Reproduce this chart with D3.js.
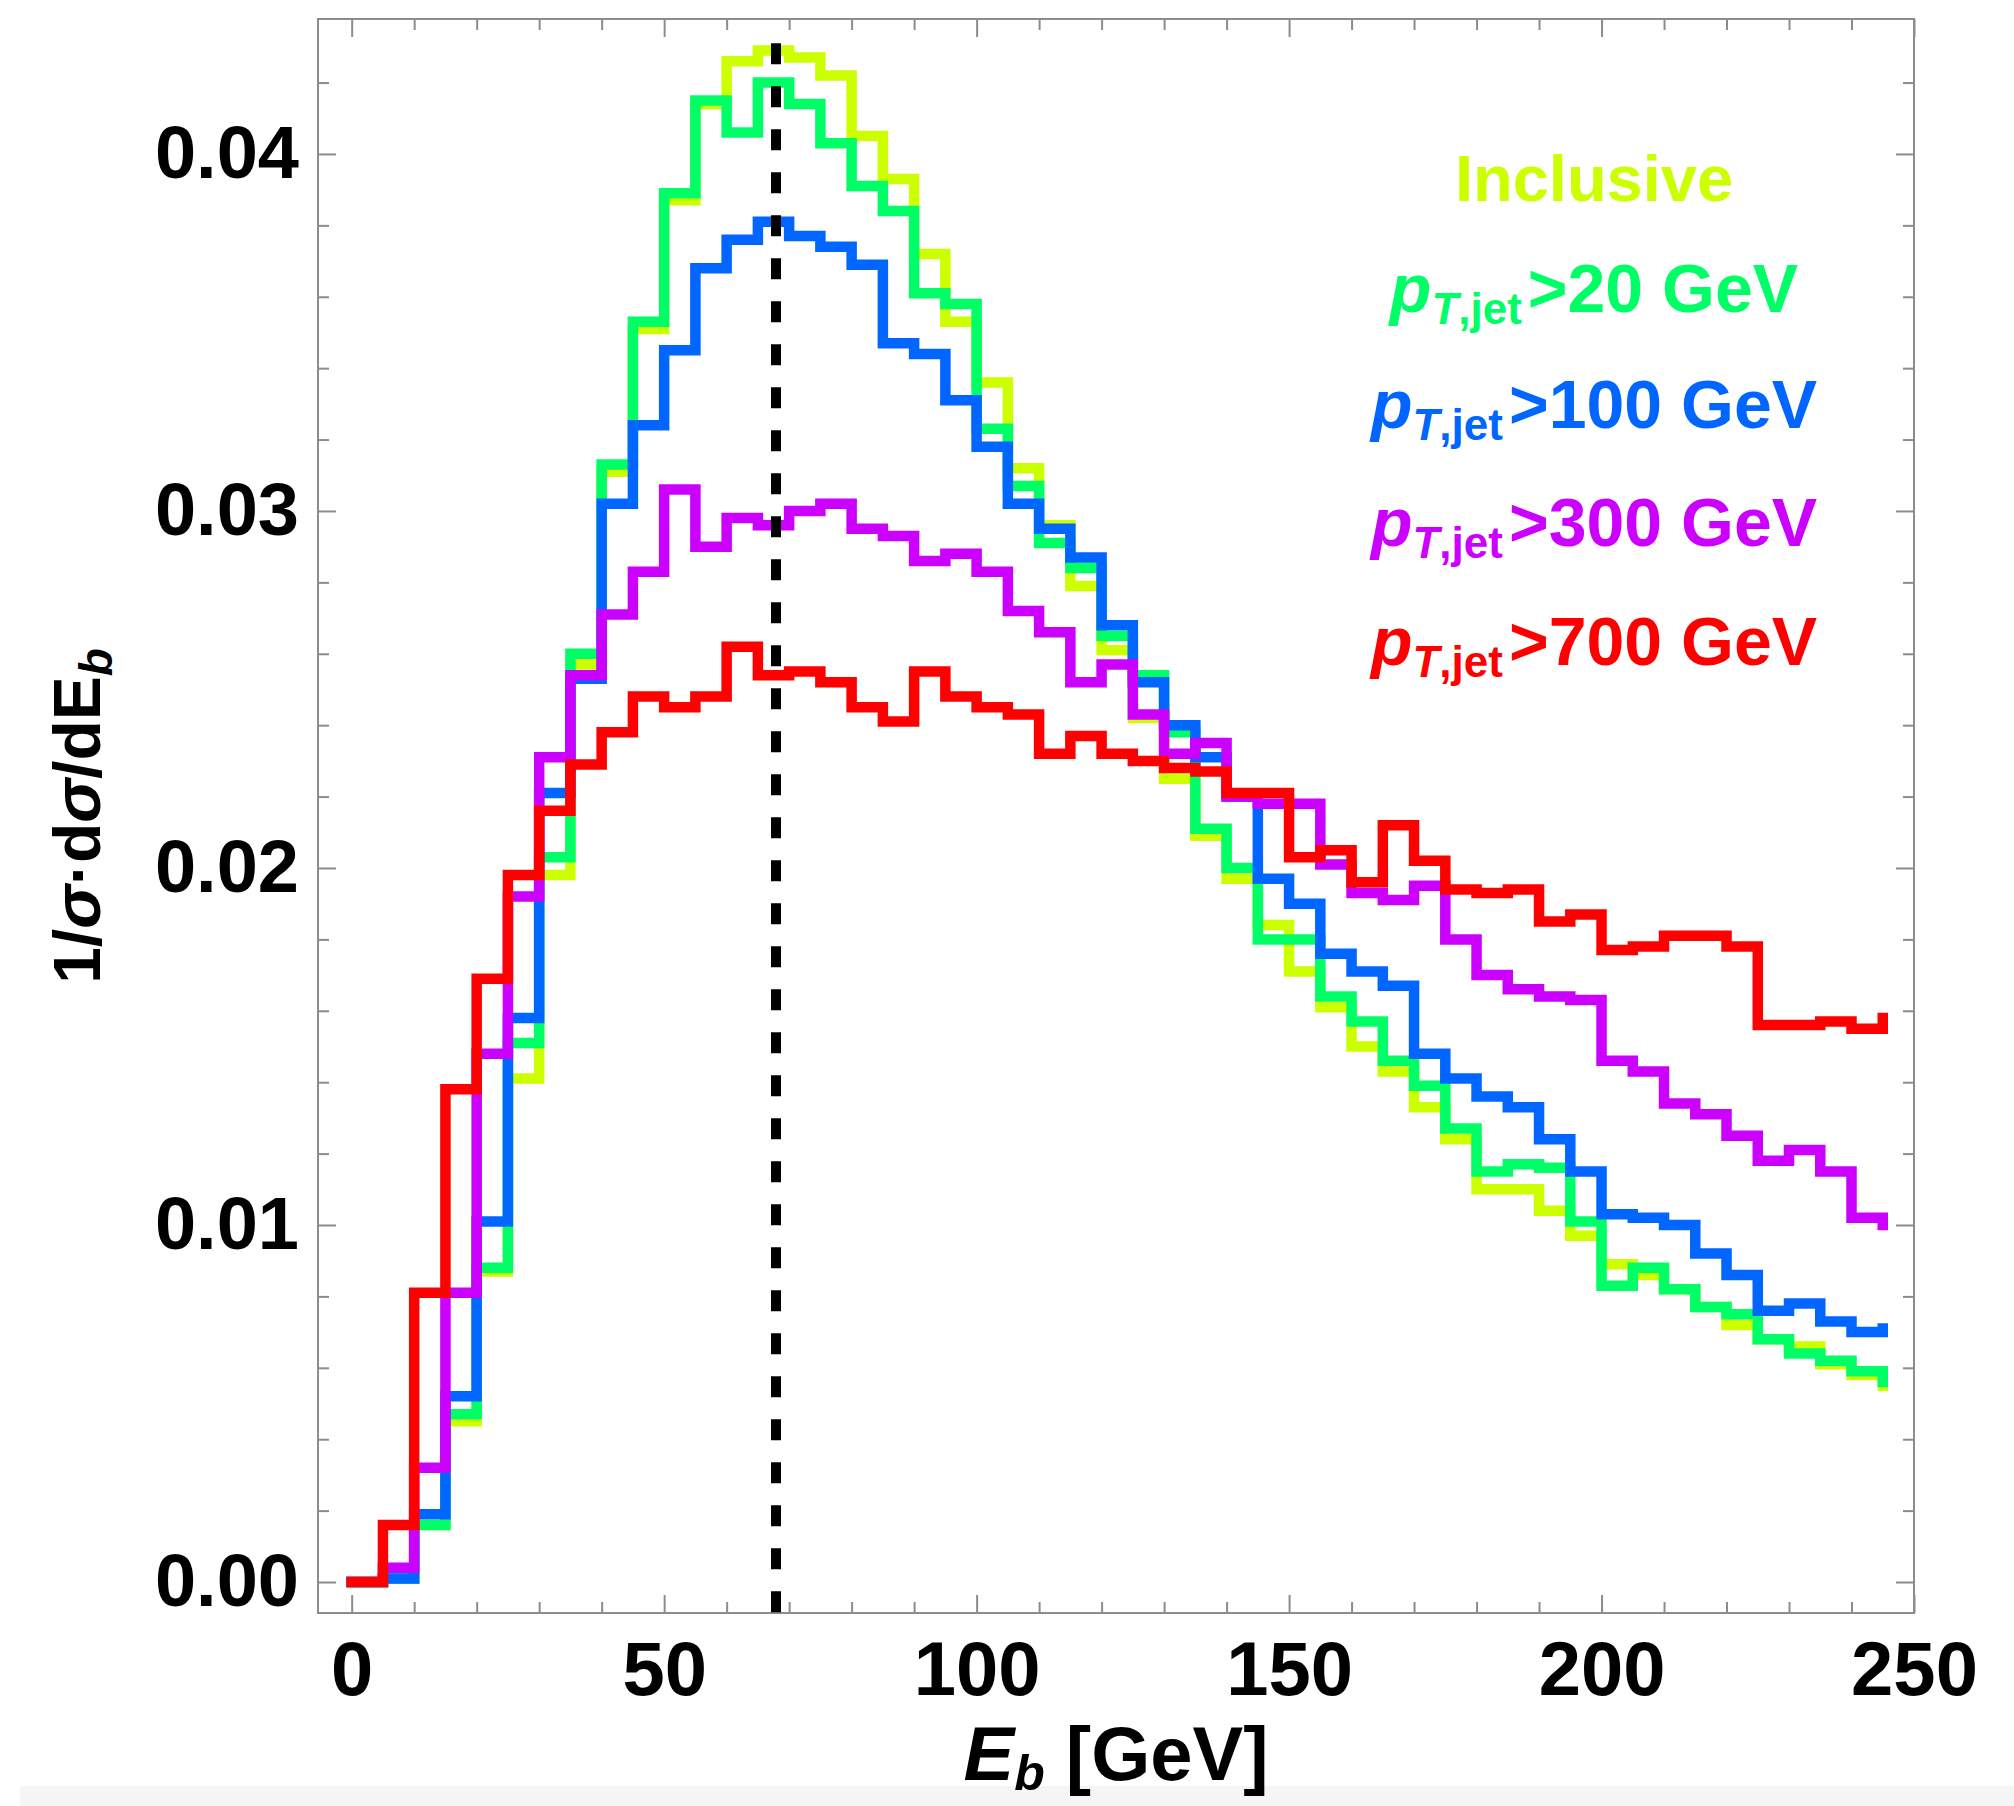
<!DOCTYPE html>
<html>
<head>
<meta charset="utf-8">
<script src="https://cdn.jsdelivr.net/npm/d3@7"></script>
<style>
  html, body { margin: 0; padding: 0; background: #fff; }
  svg text { font-family: "Liberation Sans", Arial, Helvetica, sans-serif; font-weight: bold; }
</style>
</head>
<body>
<svg id="chart" width="2014" height="1806"></svg>
<script>
// bin left edges in GeV (5 GeV bins)
const binLeft = [0, 5, 10, 15, 20, 25, 30, 35, 40, 45, 50, 55, 60, 65, 70, 75, 80, 85, 90, 95,
  100, 105, 110, 115, 120, 125, 130, 135, 140, 145, 150, 155, 160, 165, 170, 175, 180, 185, 190, 195,
  200, 205, 210, 215, 220, 225, 230, 235, 240, 245];

const inclusive = [0, 0.0001, 0.0016, 0.0045, 0.0087, 0.0141, 0.0198, 0.0257, 0.0311, 0.0351,
  0.0387, 0.0414, 0.0426, 0.0429, 0.0427, 0.0422, 0.0405, 0.0393, 0.0372, 0.0353,
  0.0336, 0.0312, 0.0296, 0.0279, 0.0261, 0.0242, 0.0225, 0.0209, 0.0197, 0.0184,
  0.0171, 0.0161, 0.0150, 0.0143, 0.0133, 0.0124, 0.0110, 0.0110, 0.0104, 0.0097,
  0.0089, 0.0086, 0.0082, 0.0077, 0.0072, 0.0068, 0.0066, 0.0061, 0.0058, 0.0055];

const pt20 = [0, 0.0001, 0.0016, 0.0047, 0.0088, 0.0151, 0.0203, 0.0260, 0.0313, 0.0353,
  0.0389, 0.0415, 0.0406, 0.0420, 0.0414, 0.0403, 0.0391, 0.0384, 0.0361, 0.0358,
  0.0323, 0.0307, 0.0291, 0.0284, 0.0265, 0.0254, 0.0238, 0.0211, 0.0200, 0.0180,
  0.0180, 0.0164, 0.0157, 0.0146, 0.0139, 0.0127, 0.0115, 0.0117, 0.0116, 0.0101,
  0.0083, 0.0088, 0.0082, 0.0077, 0.0075, 0.0068, 0.0064, 0.0062, 0.0059, 0.0056];

const pt100 = [0, 0.0001, 0.0019, 0.0052, 0.0101, 0.0158, 0.0221, 0.0253, 0.0302, 0.0324,
  0.0345, 0.0368, 0.0376, 0.0381, 0.0377, 0.0374, 0.0369, 0.0347, 0.0344, 0.0331,
  0.0318, 0.0302, 0.0295, 0.0287, 0.0268, 0.0252, 0.0240, 0.0231, 0.0220, 0.0197,
  0.0190, 0.0176, 0.0171, 0.0167, 0.0148, 0.0141, 0.0136, 0.0133, 0.0124, 0.0115,
  0.0103, 0.0102, 0.0100, 0.0092, 0.0086, 0.0076, 0.0078, 0.0073, 0.0070, 0.0071];

const pt300 = [0, 0.0004, 0.0032, 0.0081, 0.0148, 0.0192, 0.0231, 0.0254, 0.0271, 0.0283,
  0.0306, 0.0290, 0.0298, 0.0296, 0.0300, 0.0302, 0.0295, 0.0293, 0.0286, 0.0288,
  0.0283, 0.0272, 0.0266, 0.0252, 0.0257, 0.0243, 0.0232, 0.0235, 0.0220, 0.0218,
  0.0218, 0.0201, 0.0193, 0.0191, 0.0195, 0.0180, 0.0170, 0.0166, 0.0164, 0.0163,
  0.0146, 0.0143, 0.0134, 0.0131, 0.0125, 0.0118, 0.0121, 0.0115, 0.0102, 0.0100];

const pt700 = [0, 0.0016, 0.0081, 0.0138, 0.0169, 0.0198, 0.0216, 0.0229, 0.0238, 0.0248,
  0.0245, 0.0248, 0.0262, 0.0254, 0.0255, 0.0252, 0.0245, 0.0241, 0.0255, 0.0248,
  0.0245, 0.0243, 0.0232, 0.0237, 0.0232, 0.0230, 0.0228, 0.0227, 0.0221, 0.0221,
  0.0203, 0.0205, 0.0196, 0.0212, 0.0202, 0.0194, 0.0193, 0.0194, 0.0185, 0.0187,
  0.0177, 0.0178, 0.0181, 0.0181, 0.0178, 0.0156, 0.0156, 0.0157, 0.0155, 0.0158];

const seriesList = [inclusive, pt20, pt100, pt300, pt700];
const seriesColors = ['#ccff00', '#00ff66', '#0066ff', '#cc00ff', '#ff0000'];
const legendCuts = [null, '20', '100', '300', '700'];

const xMajor = [0, 50, 100, 150, 200, 250];
const xMinor = [10, 20, 30, 40, 60, 70, 80, 90, 110, 120, 130, 140, 160, 170, 180, 190, 210, 220, 230, 240];
const yMajor = [0, 0.01, 0.02, 0.03, 0.04];
const yMinor = [0.002, 0.004, 0.006, 0.008, 0.012, 0.014, 0.016, 0.018, 0.022, 0.024, 0.026, 0.028,
  0.032, 0.034, 0.036, 0.038, 0.042];

const peakE = 67.9;
const peakTop = 0.0431;

const frame = { left: 318, right: 1914, top: 19, bottom: 1613 };

const svg = d3.select('#chart');

// light strip at the bottom of the picture
svg.append('rect')
  .attr('x', 20).attr('y', 1786).attr('width', 1994).attr('height', 20)
  .attr('fill', '#f5f5f5');

const x = d3.scaleLinear().domain([-5.39, 250]).range([frame.left, frame.right]);
const y = d3.scaleLinear().domain([-0.000868, 0.04378]).range([frame.bottom, frame.top]);

const tickColor = '#8c8c8c';

function drawAxis(axis, tx, ty, withLabels) {
  const g = svg.append('g')
    .attr('transform', `translate(${tx},${ty})`)
    .call(axis);
  g.select('.domain').remove();
  g.selectAll('.tick line').attr('stroke', tickColor).attr('stroke-width', 2);
  if (!withLabels) g.selectAll('.tick text').remove();
  return g;
}

// bottom
const xb = drawAxis(d3.axisBottom(x).tickValues(xMajor).tickSize(-18).tickPadding(28).tickFormat(d3.format('d')),
  0, frame.bottom, true);
xb.selectAll('.tick text').attr('font-size', 76).attr('fill', '#000');
drawAxis(d3.axisBottom(x).tickValues(xMinor).tickSize(-11), 0, frame.bottom, false);
// top
drawAxis(d3.axisTop(x).tickValues(xMajor).tickSize(-18), 0, frame.top, false);
drawAxis(d3.axisTop(x).tickValues(xMinor).tickSize(-11), 0, frame.top, false);
// left
const yl = drawAxis(d3.axisLeft(y).tickValues(yMajor).tickSize(-18).tickPadding(19).tickFormat(d3.format('.2f')),
  frame.left, 0, true);
yl.selectAll('.tick text').attr('font-size', 74).attr('fill', '#000');
drawAxis(d3.axisLeft(y).tickValues(yMinor).tickSize(-11), frame.left, 0, false);
// right
drawAxis(d3.axisRight(y).tickValues(yMajor).tickSize(-18), frame.right, 0, false);
drawAxis(d3.axisRight(y).tickValues(yMinor).tickSize(-11), frame.right, 0, false);

svg.append('rect')
  .attr('x', frame.left).attr('y', frame.top)
  .attr('width', frame.right - frame.left).attr('height', frame.bottom - frame.top)
  .attr('fill', 'none').attr('stroke', tickColor).attr('stroke-width', 2);

// histograms
const step = d3.line()
  .curve(d3.curveStepAfter)
  .x((d, i) => x(binLeft[i]))
  .y(d => y(d));

seriesList.forEach((s, k) => {
  svg.append('path')
    .attr('d', step(s))
    .attr('fill', 'none')
    .attr('stroke', seriesColors[k])
    .attr('stroke-width', 10.5)
    .attr('stroke-linejoin', 'miter')
    .attr('stroke-linecap', 'square');
});

// dashed peak line
svg.append('line')
  .attr('x1', x(peakE)).attr('x2', x(peakE))
  .attr('y1', y(peakTop)).attr('y2', frame.bottom)
  .attr('stroke', '#000')
  .attr('stroke-width', 10)
  .attr('stroke-dasharray', '21 22');

// legend
const legendY = [201, 312, 428, 546, 665];
legendCuts.forEach((cut, k) => {
  const t = svg.append('text')
    .attr('x', 1594).attr('y', legendY[k])
    .attr('text-anchor', 'middle')
    .attr('font-size', 68)
    .attr('fill', seriesColors[k]);
  if (cut === null) {
    t.attr('font-size', 65).text('Inclusive');
    return;
  }
  t.append('tspan').attr('font-style', 'italic').text('p');
  t.append('tspan').attr('font-size', 44).attr('dy', 12).attr('font-style', 'italic').text('T');
  t.append('tspan').attr('font-size', 44).text(',jet');
  t.append('tspan').attr('dy', -12).attr('dx', 6).text('>' + cut + ' GeV');
});

// axis titles
const xt = svg.append('text')
  .attr('x', 1116).attr('y', 1780)
  .attr('text-anchor', 'middle')
  .attr('font-size', 76)
  .attr('fill', '#000');
xt.append('tspan').attr('font-style', 'italic').text('E');
xt.append('tspan').attr('font-style', 'italic').attr('font-size', 50).attr('dy', 10).text('b');
xt.append('tspan').attr('dy', -10).text(' [GeV]');

const yt = svg.append('text')
  .attr('transform', 'translate(100,816) rotate(-90)')
  .attr('text-anchor', 'middle')
  .attr('font-size', 66)
  .attr('fill', '#000');
yt.append('tspan').text('1/');
yt.append('tspan').attr('font-style', 'italic').text('σ');
yt.append('tspan').text('·d');
yt.append('tspan').attr('font-style', 'italic').text('σ');
yt.append('tspan').text('/dE');
yt.append('tspan').attr('font-style', 'italic').attr('font-size', 46).attr('dy', 12).text('b');
</script>
</body>
</html>
